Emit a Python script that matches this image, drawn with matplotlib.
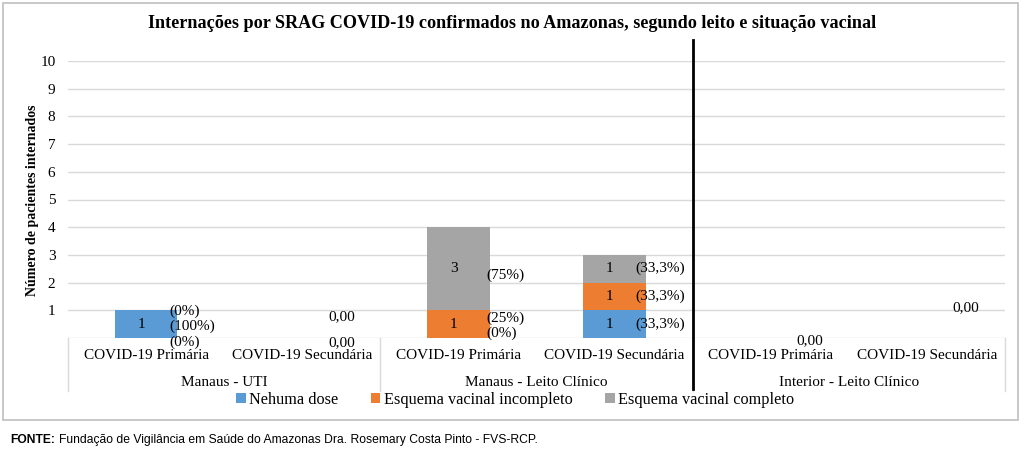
import matplotlib
matplotlib.use("Agg")
import matplotlib.pyplot as plt
from matplotlib.patches import Rectangle
from matplotlib.lines import Line2D

categories = ["COVID-19 Primária", "COVID-19 Secundária"] * 3
groups = ["Manaus - UTI", "Manaus - Leito Clínico", "Interior - Leito Clínico"]
series_names = ["Nehuma dose", "Esquema vacinal incompleto", "Esquema vacinal completo"]
nenhuma = [1, 0, 0, 1, 0, 0]
incompleto = [0, 0, 1, 1, 0, 0]
completo = [0, 0, 3, 1, 0, 0]
colors = ["#5B9BD5", "#ED7D31", "#A5A5A5"]

plt.rcParams['font.family'] = ['Liberation Serif', 'DejaVu Serif']

W, H = 1024, 453
FS = 11
fig = plt.figure(figsize=(W / 100, H / 100), dpi=100)
fig.patches.append(Rectangle((3 / W, 1 - 420 / H), 1015 / W, 417 / H, transform=fig.transFigure,
                             fill=False, edgecolor="#BFBFBF", linewidth=1.2))

ax = fig.add_axes([68 / W, 1 - 338 / H, (1005 - 68) / W, (338 - 61) / H])
ax.set_xlim(-0.5, 5.5)
ax.set_ylim(0, 10)
for s in ax.spines.values():
    s.set_visible(False)
ax.set_yticks(range(1, 11))
ax.set_yticklabels([str(i) for i in range(1, 11)], fontsize=FS)
ax.tick_params(axis='y', length=0, pad=9)
ax.set_xticks([])
ax.grid(axis='y', color="#D9D9D9", linewidth=1)
ax.set_axisbelow(True)
ax.axhline(0, color="#D9D9D9", linewidth=1)

x = list(range(6))
bw = 0.4
bottom = [0] * 6
series = [nenhuma, incompleto, completo]
for vals, c, name in zip(series, colors, series_names):
    ax.bar(x, vals, bw, bottom=bottom, color=c, label=name, zorder=2)
    bottom = [b + v for b, v in zip(bottom, vals)]

totals = [a + b + c for a, b, c in zip(nenhuma, incompleto, completo)]

# value labels inside segments
bottom = [0] * 6
for vals in series:
    for i, v in enumerate(vals):
        if v > 0:
            ax.text(i - 0.03, bottom[i] + v / 2, str(v), ha='center', va='center', fontsize=FS, zorder=3)
    bottom = [b + v for b, v in zip(bottom, vals)]

def pct(v, t):
    p = 100 * v / t
    if abs(p - round(p)) < 1e-9:
        return f"({int(round(p))}%)"
    return "(" + f"{p:.1f}".replace(".", ",") + "%)"

# percentage labels (positions as in reference): nenhuma, incompleto, completo
pct_pos = {
    0: [0.42, -0.15, 0.97],
    2: [0.16, 0.72, 2.25],
    3: [0.5, 1.5, 2.5],
}
pct_x = {0: 0.15, 2: 0.18, 3: 0.135}
for i, ys in pct_pos.items():
    for k, vals in enumerate(series):
        ax.text(i + pct_x[i], ys[k], pct(vals[i], totals[i]), ha='left', va='center',
                fontsize=FS, clip_on=False, zorder=3)

# zero labels
zero_labels = [(1, 0.76), (1, -0.17), (4, -0.08), (5, 1.08)]
for i, yv in zero_labels:
    ax.text(i + 0.25, yv, "0,00", ha='center', va='center', fontsize=FS, clip_on=False, zorder=3)

# category and group labels
for i, c in enumerate(categories):
    ax.text(i, -0.62, c, ha='center', va='center', fontsize=FS, clip_on=False)
for g, name in enumerate(groups):
    ax.text(2 * g + 0.5, -1.62, name, ha='center', va='center', fontsize=FS, clip_on=False)
for xb in [-0.5, 1.5, 3.5, 5.5]:
    ax.add_line(Line2D([xb, xb], [0, -1.92], color="#D9D9D9", linewidth=1, clip_on=False))

# black divider
ax.add_line(Line2D([3.5, 3.5], [10.76, -1.85], color="black", linewidth=2, clip_on=False, zorder=4))

fig.text(512 / W, 1 - 24 / H, "Internações por SRAG COVID-19 confirmados no Amazonas, segundo leito e situação vacinal",
         ha='center', va='center', fontsize=13.1, fontweight='bold')
fig.text(33 / W, 1 - 200 / H, "Número de pacientes internados", rotation=90, ha='center', va='center',
         fontsize=10, fontweight='bold')

leg = ax.legend(loc='center', bbox_to_anchor=(0.477, (-2.24) / 10), ncol=3, frameon=False, fontsize=11.7,
                handlelength=0.6, handleheight=0.6, handletextpad=0.2, columnspacing=2.0)

t1 = fig.text(10 / W, 1 - 440 / H, "FONTE:", ha='left', va='center', fontsize=8.7, fontweight='bold',
              family='Liberation Sans')
fig.canvas.draw()
bb = t1.get_window_extent()
fig.text((bb.x1 + 4) / W, 1 - 440 / H,
         "Fundação de Vigilância em Saúde do Amazonas Dra. Rosemary Costa Pinto - FVS-RCP.",
         ha='left', va='center', fontsize=8.7, family='Liberation Sans')

fig.savefig("out.png", dpi=100)
